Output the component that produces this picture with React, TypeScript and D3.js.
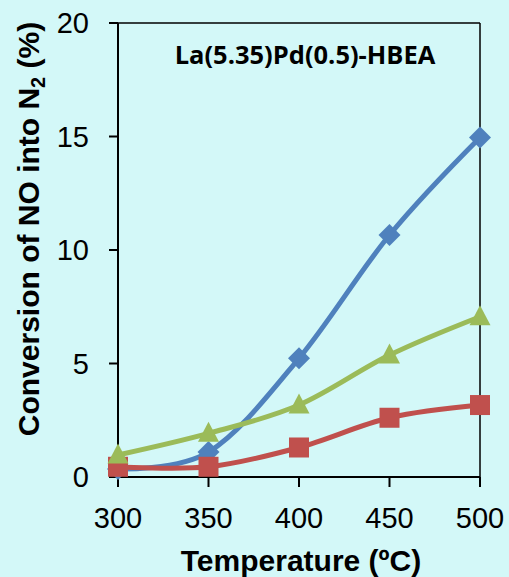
import React from 'react';
import * as d3 from 'd3';

const temps = [300, 350, 400, 450, 500];
const blueSeries = [0.35, 1.1, 5.23, 10.66, 14.96];
const redSeries = [0.45, 0.45, 1.3, 2.61, 3.17];
const greenSeries = [0.97, 1.92, 3.17, 5.37, 7.06];
const yTicks = [0, 5, 10, 15, 20];
const xTicks = [300, 350, 400, 450, 500];

const W = 509;
const H = 577;
const BG = '#d3f8f8';

export default function App() {
  const x = d3.scaleLinear().domain([300, 500]).range([118, 480]);
  const y = d3.scaleLinear().domain([0, 20]).range([477, 23]);

  const line = d3
    .line<number>()
    .x((d, i) => x(temps[i]))
    .y((d) => y(d))
    .curve(d3.curveCardinal.tension(0));

  const diamond = (cx: number, cy: number, r: number) =>
    `M${cx},${cy - r}L${cx + r},${cy}L${cx},${cy + r}L${cx - r},${cy}Z`;
  const triangle = (cx: number, cy: number, s: number) =>
    `M${cx},${cy - s * 0.55}L${cx + s / 2},${cy + s * 0.4}L${cx - s / 2},${cy + s * 0.4}Z`;

  return (
    <svg width={W} height={H} style={{ position: 'absolute', left: 0, top: 0, display: 'block' }}>
      <rect x={0} y={0} width={W} height={H} fill={BG} />

      {/* frame */}
      <line x1={x(300)} x2={x(500)} y1={y(20)} y2={y(20)} stroke="#000" strokeWidth={1.5} />
      <line x1={x(500)} x2={x(500)} y1={y(20)} y2={y(0)} stroke="#000" strokeWidth={1.5} />
      <line x1={x(300)} x2={x(300)} y1={y(20)} y2={y(0)} stroke="#000" strokeWidth={2} />
      <line x1={x(300) - 9} x2={x(500)} y1={y(0)} y2={y(0)} stroke="#000" strokeWidth={2} />

      {yTicks.map((t) => (
        <g key={'y' + t}>
          <line x1={x(300) - 9} x2={x(300)} y1={y(t)} y2={y(t)} stroke="#000" strokeWidth={2} />
          <text
            x={89}
            y={y(t)}
            dy="0.36em"
            textAnchor="end"
            fontFamily="Liberation Sans, Arial, sans-serif"
            fontSize={29}
            fill="#000"
          >
            {t}
          </text>
        </g>
      ))}

      {xTicks.map((t) => (
        <g key={'x' + t}>
          <line x1={x(t)} x2={x(t)} y1={y(0)} y2={y(0) + 10} stroke="#000" strokeWidth={2} />
          <text
            x={x(t)}
            y={528}
            textAnchor="middle"
            fontFamily="Liberation Sans, Arial, sans-serif"
            fontSize={29}
            fill="#000"
          >
            {t}
          </text>
        </g>
      ))}

      {/* blue */}
      <path d={line(blueSeries) || ''} fill="none" stroke="#4f81bd" strokeWidth={5} />
      {blueSeries.map((v, i) => (
        <path key={'b' + i} d={diamond(x(temps[i]), y(v), 11)} fill="#4f81bd" />
      ))}

      {/* red */}
      <path d={line(redSeries) || ''} fill="none" stroke="#c0504d" strokeWidth={5} />
      {redSeries.map((v, i) => (
        <rect key={'r' + i} x={x(temps[i]) - 10} y={y(v) - 10} width={20} height={20} fill="#c0504d" />
      ))}

      {/* green */}
      <path d={line(greenSeries) || ''} fill="none" stroke="#9bbb59" strokeWidth={5} />
      {greenSeries.map((v, i) => (
        <path key={'g' + i} d={triangle(x(temps[i]), y(v), 21)} fill="#9bbb59" />
      ))}

      <text
        x={305}
        y={64}
        textAnchor="middle"
        fontFamily="Open Sans, sans-serif"
        fontWeight="bold"
        fontSize={25.5}
        fill="#000"
      >
        La(5.35)Pd(0.5)-HBEA
      </text>

      <text
        x={301}
        y={571}
        textAnchor="middle"
        fontFamily="Liberation Sans, Arial, sans-serif"
        fontWeight="bold"
        fontSize={30}
        fill="#000"
      >
        Temperature (ºC)
      </text>

      <text
        transform="translate(39,229) rotate(-90)"
        textAnchor="middle"
        fontFamily="Liberation Sans, Arial, sans-serif"
        fontWeight="bold"
        fontSize={30}
        fill="#000"
      >
        Conversion of NO into N
        <tspan fontSize={20} dy={6}>2</tspan>
        <tspan dy={-6}> (%)</tspan>
      </text>
    </svg>
  );
}
